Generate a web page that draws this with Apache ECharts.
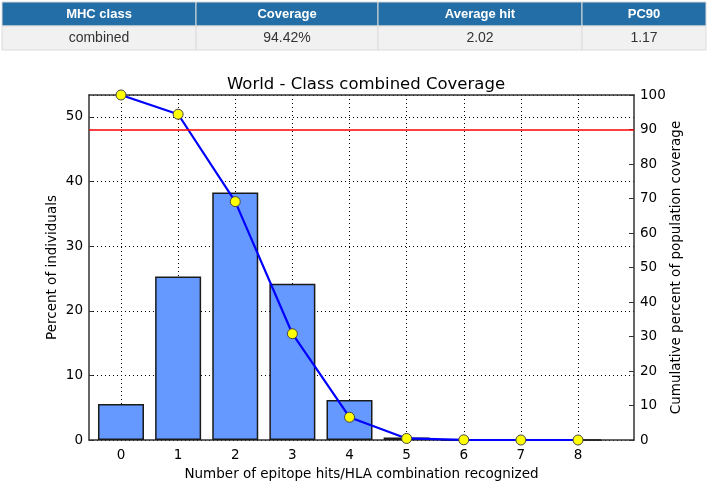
<!DOCTYPE html>
<html>
<head>
<meta charset="utf-8">
<script src="https://cdn.jsdelivr.net/npm/echarts@6/dist/echarts.min.js"></script>
<style>
html,body{margin:0;padding:0;background:#fff;}
#chart{width:708px;height:486px;}
</style>
</head>
<body>
<div id="chart"></div>
<script>
// Data
var categories = [0, 1, 2, 3, 4, 5, 6, 7, 8];
var percentIndividuals = [5.58, 25.3, 38.3, 24.2, 6.2, 0.4, 0.02, 0, 0];
var cumulativeCoverage = [100, 94.42, 69.1, 30.8, 6.6, 0.45, 0.05, 0, 0];
var leftTicks = [0, 10, 20, 30, 40, 50];
var thresholdLine = 90;
var tableHeaders = ['MHC class', 'Coverage', 'Average hit', 'PC90'];
var tableRow = ['combined', '94.42%', '2.02', '1.17'];

var chart = echarts.init(document.getElementById('chart'));

var barData = categories.map(function (c, i) { return [c, percentIndividuals[i]]; });
var lineData = categories.map(function (c, i) { return [c, cumulativeCoverage[i]]; });

// table as graphic
var colEdges = [2, 196, 378, 582, 706];
var graphics = [];
for (var i = 0; i < tableHeaders.length; i++) {
  var x0 = colEdges[i], x1 = colEdges[i + 1];
  graphics.push({type: 'rect', shape: {x: x0, y: 2, width: x1 - x0, height: 24},
    style: {fill: '#236ea7', stroke: '#d9d9d9', lineWidth: 1}, silent: true});
  graphics.push({type: 'rect', shape: {x: x0, y: 26, width: x1 - x0, height: 24},
    style: {fill: '#f1f1f1', stroke: '#dcdcdc', lineWidth: 1}, silent: true});
  graphics.push({type: 'text', x: (x0 + x1) / 2, y: 14,
    style: {text: tableHeaders[i], fill: '#ffffff', font: 'bold 13px "Liberation Sans", Arial, sans-serif', align: 'center', verticalAlign: 'middle'}, silent: true});
  graphics.push({type: 'text', x: (x0 + x1) / 2, y: 38.5,
    style: {text: tableRow[i], fill: '#333333', font: '14px "Liberation Sans", Arial, sans-serif', align: 'center', verticalAlign: 'middle'}, silent: true});
}

var axisLineStyle = {color: '#333', width: 1.5};
var fontFam = '"DejaVu Sans", sans-serif';

chart.setOption({
  animation: false,
  backgroundColor: '#fff',
  textStyle: {fontFamily: fontFam},
  title: {
    text: 'World - Class combined Coverage',
    left: 361, top: 71, textAlign: 'center',
    textStyle: {fontFamily: fontFam, fontSize: 16.5, fontWeight: 'normal', color: '#000'}
  },
  graphic: graphics,
  grid: {left: 89, right: 74, top: 95, bottom: 43, containLabel: false},
  xAxis: [{
    type: 'value', min: -0.56, max: 8.98, position: 'bottom',
    name: 'Number of epitope hits/HLA combination recognized',
    nameLocation: 'middle', nameGap: 27,
    nameTextStyle: {fontFamily: fontFam, fontSize: 13.5, color: '#000'},
    axisLine: {show: true, onZero: false, lineStyle: axisLineStyle},
    axisTick: {show: true, inside: true, length: 4, customValues: categories, lineStyle: {color: '#333'}},
    axisLabel: {customValues: categories, fontFamily: fontFam, fontSize: 13.5, color: '#000', margin: 8},
    splitLine: {show: true, lineStyle: {color: '#000', type: [1, 3], width: 1}}
  }, {
    type: 'value', min: -0.56, max: 8.98, position: 'top',
    axisLine: {show: true, onZero: false, lineStyle: axisLineStyle},
    axisTick: {show: false}, axisLabel: {show: false}, splitLine: {show: false}
  }],
  yAxis: [{
    type: 'value', min: 0, max: 53.4, interval: 10, position: 'left',
    name: 'Percent of individuals', nameLocation: 'middle', nameGap: 30, nameRotate: 90,
    nameMoveOverlap: false,
    nameTextStyle: {fontFamily: fontFam, fontSize: 13.5, color: '#000'},
    axisLine: {show: true, onZero: false, lineStyle: axisLineStyle},
    axisTick: {show: true, inside: true, length: 4, lineStyle: {color: '#333'}},
    axisLabel: {fontFamily: fontFam, fontSize: 13.5, color: '#000', showMaxLabel: false, margin: 6},
    splitLine: {show: true, lineStyle: {color: '#000', type: [1, 3], width: 1}}
  }, {
    type: 'value', min: 0, max: 100, interval: 10, position: 'right',
    name: 'Cumulative percent of population coverage', nameLocation: 'middle', nameGap: 35, nameRotate: 90,
    nameMoveOverlap: false,
    nameTextStyle: {fontFamily: fontFam, fontSize: 13.5, color: '#000'},
    axisLine: {show: true, onZero: false, lineStyle: axisLineStyle},
    axisTick: {show: true, inside: true, length: 5, lineStyle: {color: '#333'}},
    axisLabel: {fontFamily: fontFam, fontSize: 13.5, color: '#000', margin: 6},
    splitLine: {show: false}
  }],
  series: [{
    type: 'bar', xAxisIndex: 0, yAxisIndex: 0, data: barData, barWidth: 46,
    itemStyle: {color: '#6699ff', borderColor: '#1a1a1a', borderWidth: 1.5},
    z: 2
  }, {
    type: 'line', xAxisIndex: 0, yAxisIndex: 1, data: lineData,
    symbol: 'circle', symbolSize: 10,
    lineStyle: {color: '#0000ff', width: 2.2},
    itemStyle: {color: '#ffff00', borderColor: '#444', borderWidth: 1},
    z: 4,
    markLine: {
      silent: true, symbol: 'none', animation: false,
      label: {show: false},
      lineStyle: {color: '#ff0000', type: 'solid', width: 1.5},
      data: [{yAxis: thresholdLine}]
    }
  }]
});
</script>
</body>
</html>
